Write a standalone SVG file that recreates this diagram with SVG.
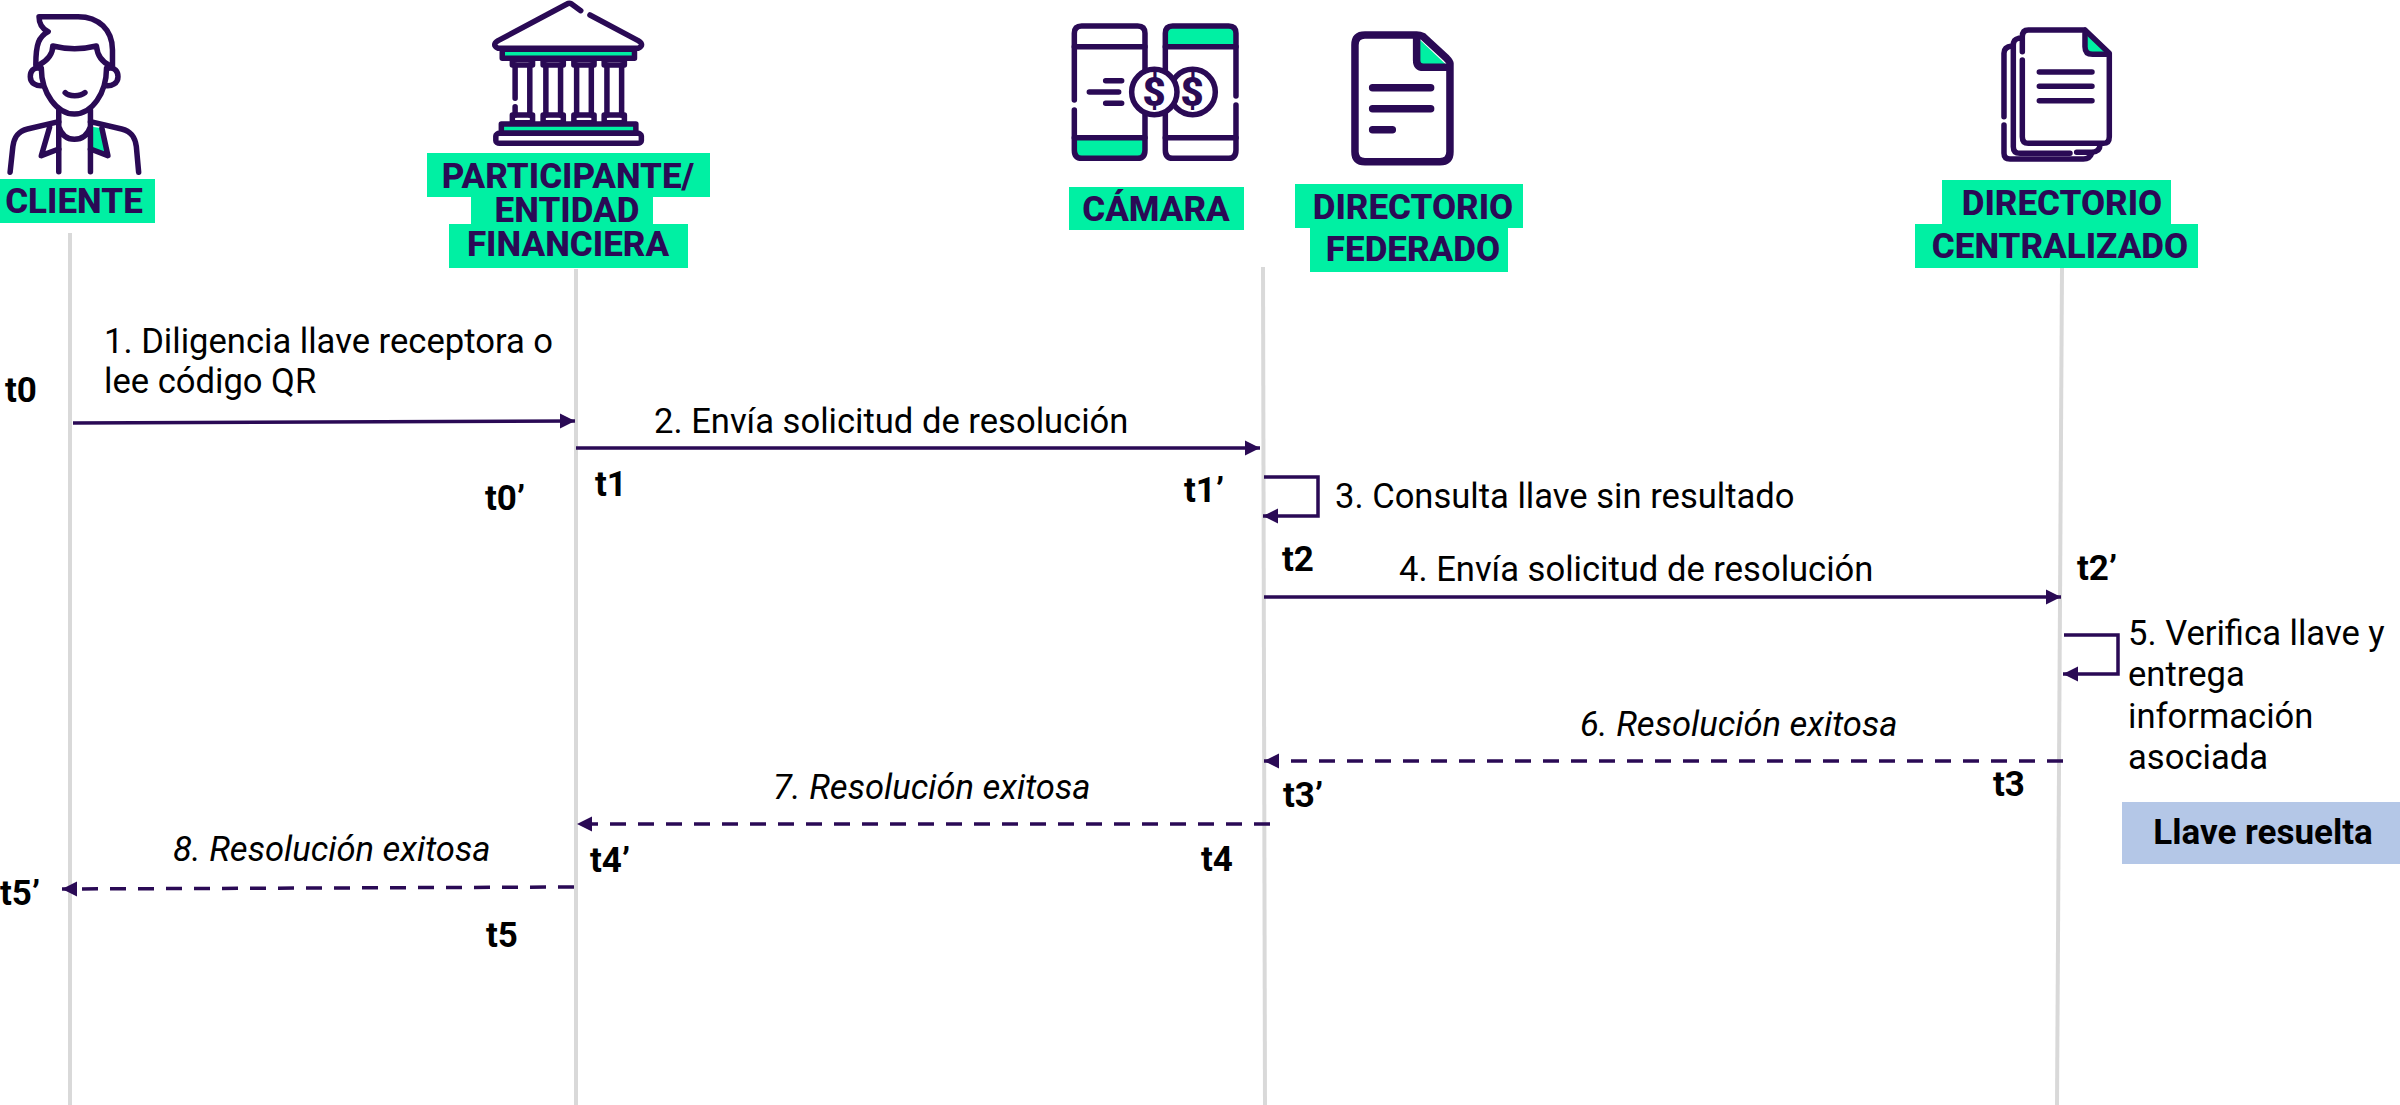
<svg xmlns="http://www.w3.org/2000/svg" width="2400" height="1105" viewBox="0 0 2400 1105">
<defs>
<style>
text{font-family:Roboto,"Liberation Sans",sans-serif;fill:#000}
.n{font-size:35px;font-weight:800;fill:#2a0a55;text-anchor:middle}
.b{font-size:34.6px}
.i{font-size:34.6px;font-style:italic}
.t{font-size:35px;font-weight:700}
.g{fill:#00f0a3}
.ic{fill:none;stroke:#2a0a55;stroke-linecap:round;stroke-linejoin:round}
.ic *{vector-effect:non-scaling-stroke}
.a{fill:none;stroke:#2a0a55;stroke-width:3.500}
.d{stroke-dasharray:16 12}
.ll{stroke:#d9d9d9;stroke-width:4;fill:none}
</style>
<marker id="ah" markerUnits="userSpaceOnUse" markerWidth="16" markerHeight="16" refX="15" refY="8" orient="auto"><path d="M0,0.500 L15,8 L0,15.500 Z" fill="#2a0a55"/></marker>
</defs>
<rect width="2400" height="1105" fill="#fff"/>
<g id="lifelines">
<path class="ll" d="M70,233 V1105"/>
<path class="ll" d="M576,269 V1105"/>
<path class="ll" d="M1263,267 L1265,1105"/>
<path class="ll" d="M2062,268 L2057,1105"/>
</g>
<g id="connectors">
<path class="a" d="M73,423 L575,421" marker-end="url(#ah)"/>
<path class="a" d="M576,448 H1260" marker-end="url(#ah)"/>
<path class="a" d="M1264,477 H1318 V516 H1263" marker-end="url(#ah)"/>
<path class="a" d="M1264,597 H2061" marker-end="url(#ah)"/>
<path class="a" d="M2064,635 H2118 V674 H2063" marker-end="url(#ah)"/>
<path class="a d" d="M2063,761 H1264" marker-end="url(#ah)"/>
<path class="a d" d="M1270,824 H577" marker-end="url(#ah)"/>
<path class="a d" d="M574,887 L62,889" marker-end="url(#ah)"/>
</g>
<g id="cliente">
<g class="ic" stroke-width="5.500" transform="scale(.4591,.3333)">
<path class="g" style="stroke:none" d="M200,380 L222,385 L235,467 L197,447 Z"/>
<path d="M85,50 L170,50 C215,50 245,90 245,150 L245,200 M85,50 C85,70 90,85 105,95 C85,110 78,130 78,195"/>
<path d="M85,195 C105,180 115,160 115,138 C145,148 180,148 210,138 C212,165 220,185 240,197"/>
<path d="M90,205 C90,280 125,342 162,342 C200,342 232,280 232,205"/>
<path d="M88,205 C72,200 66,215 66,230 C66,250 80,260 94,257 M235,205 C250,200 257,215 257,230 C257,250 243,260 230,257"/>
<path d="M142,278 C150,290 175,290 185,278"/>
<path d="M128,330 L128,515 M197,330 L197,515 M128,380 C135,410 150,418 162,418 C175,418 190,410 197,380"/>
<path d="M128,365 L60,387 C35,395 30,420 28,440 L22,517 M197,365 L265,387 C290,395 295,420 297,440 L302,517"/>
<path d="M108,382 L90,467 L128,447 M222,385 L235,467 L197,447"/>
</g>
<rect class="g" x="0" y="179" width="155" height="44"/>
<text class="n" x="74" y="213">CLIENTE</text>
</g>
<g id="participante">
<g class="ic" stroke-width="5.500" transform="scale(.4591,.3333)">
<path d="M1265,32 L1245,12 Q1240,8 1235,12 L1085,122 Q1070,135 1085,145 L1390,145 Q1405,135 1390,122 L1285,45"/>
<rect x="1094" y="148" width="288" height="27" fill="#00f0a3"/>
<path d="M1116,178 H1160 V195 H1116 Z M1183,178 H1227 V195 H1183 Z M1250,178 H1294 V195 H1250 Z M1316,178 H1360 V195 H1316 Z"/>
<path d="M1122,195 V295 M1122,320 V345 M1154,195 V345 M1189,195 V345 M1221,195 V345 M1256,195 V345 M1288,195 V345 M1322,195 V345 M1354,195 V345"/>
<path d="M1116,345 H1160 V368 H1116 Z M1183,345 H1227 V368 H1183 Z M1250,345 H1294 V368 H1250 Z M1316,345 H1360 V368 H1316 Z"/>
<rect x="1092" y="372" width="293" height="28" fill="#00f0a3"/>
<rect x="1080" y="400" width="317" height="30" rx="8"/>
</g>
<rect class="g" x="427" y="153" width="283" height="44"/>
<rect class="g" x="471" y="197" width="182" height="30"/>
<rect class="g" x="449" y="224" width="239" height="44"/>
<text class="n" x="568" y="188">PARTICIPANTE/</text>
<text class="n" x="567" y="222">ENTIDAD</text>
<text class="n" x="568" y="256">FINANCIERA</text>
</g>
<g id="camara">
<g class="ic" stroke-width="5.500" transform="translate(1040,0) scale(.3333)">
<path class="g" style="stroke:none" d="M107,415 H312 V450 Q312,472 290,472 H130 Q107,472 107,450 Z M380,135 V100 Q380,80 400,80 H565 Q585,80 585,100 V135 Z"/>
<path d="M103,300 V100 Q103,78 125,78 H293 Q315,78 315,100 V215 M103,330 V450 Q103,475 125,475 H293 Q315,475 315,450 V335"/>
<path d="M376,215 V100 Q376,78 398,78 H566 Q588,78 588,100 V288 M588,315 V450 Q588,475 566,475 H398 Q376,475 376,450 V335"/>
<path d="M103,140 H315 M376,140 H588 M103,413 H315 M376,413 H588"/>
<path d="M197,242 H245 M148,276 H236 M197,310 H245"/>
<circle cx="458" cy="276" r="68" fill="#fff"/>
<circle cx="343" cy="276" r="68" fill="#fff"/>
</g>
<text x="1154" y="106" font-size="40" font-weight="900" text-anchor="middle" style="fill:#2a0a55">$</text>
<text x="1192" y="106" font-size="40" font-weight="900" text-anchor="middle" style="fill:#2a0a55">$</text>
<rect class="g" x="1069" y="187" width="175" height="43"/>
<text class="n" x="1156" y="221">CÁMARA</text>
</g>
<g id="directorio-federado">
<g class="ic" stroke-width="7.500" transform="translate(1040,0) scale(.3333)">
<path class="g" style="stroke:none" d="M1130,110 L1225,200 H1130 Z"/>
<path d="M1130,105 H975 Q945,105 945,135 V455 Q945,485 975,485 H1200 Q1230,485 1230,455 V190 Q1230,185 1220,175 L1150,110 Q1140,105 1130,105 Z"/>
<path d="M1130,110 V180 Q1130,202 1150,202 H1228"/>
<path d="M998,263 H1172 M998,326 H1172 M998,389 H1057"/>
</g>
<rect class="g" x="1295" y="184" width="228" height="44"/>
<rect class="g" x="1310" y="228" width="198" height="44"/>
<text class="n" x="1413" y="219">DIRECTORIO</text>
<text class="n" x="1413" y="261">FEDERADO</text>
</g>
<g id="directorio-centralizado">
<g class="ic" stroke-width="5.500" transform="translate(1900,0) scale(.3333)">
<path class="g" style="stroke:none" d="M558,100 L622,160 H558 Z"/>
<path d="M555,90 H385 Q367,90 367,110 V155 M367,180 V410 Q367,430 385,430 H610 Q628,430 628,410 V160 L555,90"/>
<path d="M555,100 V140 Q555,163 578,163 H625"/>
<path d="M418,216 H576 M418,259 H576 M418,302 H576"/>
<path d="M362,115 H355 Q340,118 340,135 V440 Q340,460 360,460 H510 M530,457 H575 Q600,455 600,435"/>
<path d="M336,138 Q312,140 312,160 V350 M312,375 V460 Q312,477 330,477 H550 Q570,477 575,460"/>
</g>
<rect class="g" x="1942" y="180" width="229" height="44"/>
<rect class="g" x="1915" y="224" width="283" height="44"/>
<text class="n" x="2062" y="215">DIRECTORIO</text>
<text class="n" x="2060" y="258">CENTRALIZADO</text>
</g>
<g id="labels">
<text class="b" x="104" y="353">1. Diligencia llave receptora o</text>
<text class="b" x="104" y="393">lee código QR</text>
<text class="b" x="654" y="433">2. Envía solicitud de resolución</text>
<text class="b" x="1335" y="508">3. Consulta llave sin resultado</text>
<text class="b" x="1399" y="581">4. Envía solicitud de resolución</text>
<text class="b" x="2128" y="645">5. Verifica llave y</text>
<text class="b" x="2128" y="686">entrega</text>
<text class="b" x="2128" y="728">información</text>
<text class="b" x="2128" y="769">asociada</text>
<text class="i" x="1580" y="736">6. Resolución exitosa</text>
<text class="i" x="773" y="799">7. Resolución exitosa</text>
<text class="i" x="173" y="861">8. Resolución exitosa</text>
<text class="t" x="5" y="402">t0</text>
<text class="t" x="485" y="510">t0’</text>
<text class="t" x="595" y="496">t1</text>
<text class="t" x="1184" y="502">t1’</text>
<text class="t" x="1282" y="571">t2</text>
<text class="t" x="2077" y="580">t2’</text>
<text class="t" x="1283" y="807">t3’</text>
<text class="t" x="1993" y="796">t3</text>
<text class="t" x="1201" y="871">t4</text>
<text class="t" x="590" y="872">t4’</text>
<text class="t" x="0" y="905">t5’</text>
<text class="t" x="486" y="947">t5</text>
</g>
<g id="llave-resuelta">
<rect x="2122" y="802" width="278" height="62" fill="#b4c7e7"/>
<text x="2263" y="844" font-size="35" font-weight="700" text-anchor="middle">Llave resuelta</text>
</g>
</svg>
